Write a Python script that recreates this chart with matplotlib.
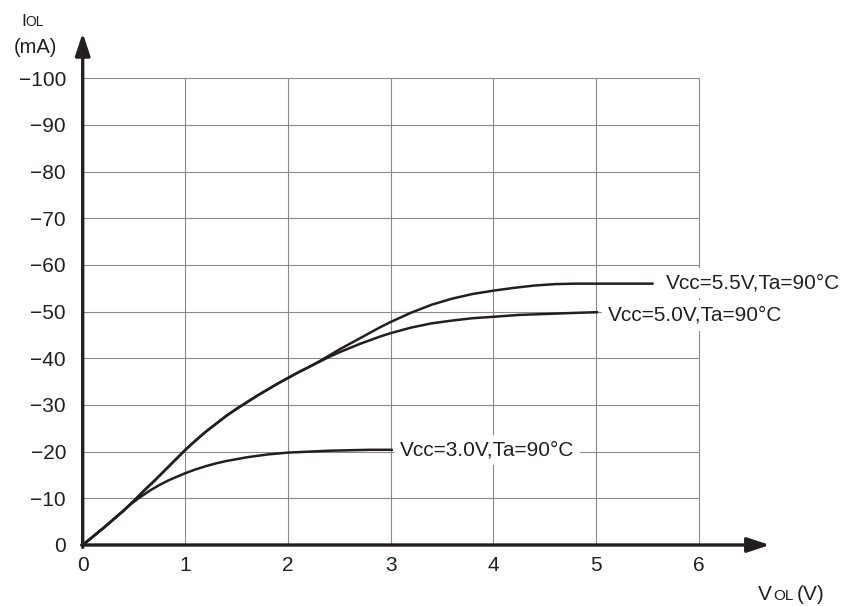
import numpy as np
import matplotlib
matplotlib.use("Agg")
import matplotlib.pyplot as plt

plt.rcParams['font.family'] = ['Liberation Sans', 'DejaVu Sans']

# datos (V_OL en V, I_OL en mA)
v_55 = [0, 0.1, 0.2, 0.3, 0.4, 0.5, 0.6, 0.7, 0.8, 0.9, 1.0, 1.1, 1.2, 1.3, 1.4, 1.5, 1.6, 1.7, 1.8, 1.9,
        2.0, 2.1, 2.2, 2.3, 2.4, 2.5, 2.6, 2.7, 2.8, 2.9, 3.0, 3.2, 3.4, 3.6, 3.8, 4.0, 4.2, 4.4, 4.6, 4.8,
        5.0, 5.56]
i_55 = [0, -1.8, -3.6, -5.5, -7.4, -9.5, -11.7, -13.8, -16.0, -18.2, -20.4, -22.4, -24.3, -26.0, -27.7,
        -29.2, -30.6, -32.0, -33.3, -34.6, -35.8, -37.0, -38.1, -39.3, -40.6, -41.9, -43.1, -44.3, -45.5,
        -46.7, -47.8, -49.8, -51.5, -52.8, -53.8, -54.5, -55.1, -55.6, -55.9, -56.0, -56.0, -56.0]

v_50 = [0, 0.1, 0.2, 0.3, 0.4, 0.5, 0.6, 0.7, 0.8, 0.9, 1.0, 1.1, 1.2, 1.3, 1.4, 1.5, 1.6, 1.7, 1.8, 1.9,
        2.0, 2.1, 2.2, 2.3, 2.4, 2.5, 2.6, 2.7, 2.8, 2.9, 3.0, 3.2, 3.4, 3.6, 3.8, 4.0, 4.25, 4.5, 4.75, 5.02]
i_50 = [0, -1.8, -3.6, -5.5, -7.4, -9.5, -11.7, -13.8, -16.0, -18.2, -20.4, -22.4, -24.3, -26.0, -27.7,
        -29.2, -30.6, -32.0, -33.3, -34.6, -35.8, -37.0, -38.1, -39.2, -40.3, -41.3, -42.2, -43.1, -43.9,
        -44.7, -45.4, -46.6, -47.5, -48.1, -48.6, -48.9, -49.3, -49.5, -49.7, -49.9]

v_30 = [0, 0.1, 0.2, 0.3, 0.4, 0.46, 0.55, 0.65, 0.75, 0.85, 1.0, 1.1, 1.2, 1.3, 1.4, 1.5, 1.6, 1.7, 1.8,
        1.9, 2.0, 2.2, 2.4, 2.6, 2.8, 3.02]
i_30 = [0, -1.8, -3.6, -5.5, -7.4, -8.6, -10.1, -11.6, -12.9, -14.0, -15.4, -16.2, -16.9, -17.5, -18.0,
        -18.4, -18.8, -19.1, -19.4, -19.6, -19.8, -20.0, -20.2, -20.3, -20.4, -20.4]

labels = ['Vcc=5.5V,Ta=90°C', 'Vcc=5.0V,Ta=90°C', 'Vcc=3.0V,Ta=90°C']
label_pos = [(5.68, -56.1), (5.11, -49.2), (3.09, -20.3)]

x_ticks = [0, 1, 2, 3, 4, 5, 6]
y_ticks = [0, -10, -20, -30, -40, -50, -60, -70, -80, -90, -100]

W, H = 848, 606
fig = plt.figure(figsize=(W / 100, H / 100), dpi=100)
ax = fig.add_axes([82.7 / W, 61 / H, 739.4 / W, 522.7 / H])
ax.set_xlim(0, 7.2)
ax.set_ylim(0, -112)

# rejilla
grid_c = '#8a8a8a'
ax.hlines(y_ticks[1:], 0, 6, color=grid_c, lw=0.8, zorder=1)
ax.vlines(x_ticks[1:], 0, -100, color=grid_c, lw=0.8, zorder=1)

# curvas
curve_c = '#231f20'
for v, i in [(v_55, i_55), (v_50, i_50), (v_30, i_30)]:
    ax.plot(v, i, color=curve_c, lw=1.8, zorder=3, solid_capstyle='butt', solid_joinstyle='round')

for txt, (tx, ty) in zip(labels, label_pos):
    ax.text(tx, ty, txt, fontsize=15, va='center', ha='left', color='#231f20',
            bbox=dict(facecolor='white', edgecolor='none', pad=4), zorder=2)

# ejes con flechas
for s in ax.spines.values():
    s.set_visible(False)
arrow = dict(arrowstyle='-|>,head_length=0.9,head_width=0.3', lw=2.4,
             color='#231f20', shrinkA=0, shrinkB=0, mutation_scale=15)
ax.annotate('', xy=(6.69, 0), xytext=(-0.01, 0), arrowprops=arrow,
            annotation_clip=False, zorder=4)
ax.annotate('', xy=(0, -109.7), xytext=(0, 0.5), arrowprops=arrow,
            annotation_clip=False, zorder=4)

ax.set_xticks(x_ticks)
ax.set_yticks(y_ticks)
ax.tick_params(axis='both', length=0, labelsize=15, colors='#231f20')
ax.tick_params(axis='x', pad=8)
ax.tick_params(axis='y', pad=12)

# etiquetas de los ejes
def px(x, y):
    return x / W, 1 - y / H

fig.text(*px(21, 26), 'I', fontsize=12.5, va='baseline', ha='left', color='#231f20')
fig.text(*px(25.5, 26), 'OL', fontsize=10, va='baseline', ha='left', color='#231f20')
fig.text(*px(35, 53), '(mA)', fontsize=14.5, va='baseline', ha='center', color='#231f20')

fig.text(*px(758, 600), 'V', fontsize=15, va='baseline', ha='left', color='#231f20')
fig.text(*px(773, 600), 'OL', fontsize=11, va='baseline', ha='left', color='#231f20')
fig.text(*px(797, 600), '(V)', fontsize=15, va='baseline', ha='left', color='#231f20')

fig.savefig('out.png', dpi=100, facecolor='white')
